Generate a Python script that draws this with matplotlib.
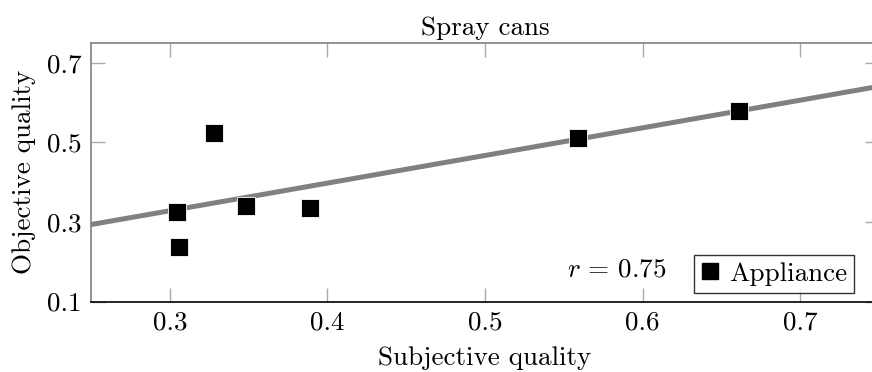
import matplotlib
matplotlib.use("Agg")
import matplotlib.pyplot as plt
import numpy as np

# Data
subjective = [0.3048, 0.3057, 0.3283, 0.3482, 0.389, 0.5589, 0.661]
objective = [0.3256, 0.2377, 0.5241, 0.340, 0.3357, 0.5116, 0.5794]
fit_slope = 0.695
fit_intercept = 0.1197
r_value = 0.75
series_name = "Appliance"
title = "Spray cans"
xticks = [0.3, 0.4, 0.5, 0.6, 0.7]
yticks = [0.1, 0.3, 0.5, 0.7]
xlim = (0.25, 0.75)
ylim = (0.1, 0.75)

plt.rcParams['font.family'] = ['cmr10', 'DejaVu Serif']
plt.rcParams['mathtext.fontset'] = 'cm'
plt.rcParams['axes.formatter.use_mathtext'] = True

FS = 19.5
W, H = 872, 372
fig = plt.figure(figsize=(W / 100, H / 100), dpi=100)
ax = fig.add_axes([91 / W, (H - 301.5) / H, (879 - 91) / W, (301.5 - 43) / H])

xs = np.array(xlim)
ax.plot(xs, fit_intercept + fit_slope * xs, color='#808080', lw=3.6, zorder=2,
        solid_capstyle='butt')
ax.plot(subjective, objective, linestyle='none', marker='s', markersize=13.5,
        markerfacecolor='black', markeredgecolor='white', markeredgewidth=0.6,
        zorder=3)

ax.set_xlim(*xlim)
ax.set_ylim(*ylim)
ax.set_xticks(xticks)
ax.set_yticks(yticks)
ax.set_xticklabels([f"{v:.1f}" for v in xticks], fontsize=FS)
ax.set_yticklabels([f"{v:.1f}" for v in yticks], fontsize=FS)
ax.tick_params(direction='in', length=10, width=1, color='#aaaaaa',
               top=True, right=True, pad=7)
for side in ['left', 'top', 'right']:
    ax.spines[side].set_color('#808080')
    ax.spines[side].set_linewidth(1.2)
ax.spines['bottom'].set_color('black')
ax.spines['bottom'].set_linewidth(1.2)

ax.set_title(title, fontsize=FS, pad=6)
ax.set_xlabel("Subjective quality", fontsize=FS, labelpad=8)
ax.set_ylabel("Objective quality", fontsize=FS, labelpad=8)

fig.text(667 / W, (H - 270) / H, rf"$r \,=\, {r_value}$", fontsize=FS,
         ha='right', va='center')

from matplotlib.lines import Line2D
handle = Line2D([], [], linestyle='none', marker='s', markersize=11,
                markerfacecolor='black', markeredgecolor='black')
leg = fig.legend([handle], [series_name], loc='lower right',
                 bbox_to_anchor=(854.3 / W, 79.3 / H),
                 bbox_transform=fig.transFigure, borderaxespad=0,
                 fontsize=FS, frameon=True, fancybox=False,
                 handlelength=0.7, handletextpad=0.35, borderpad=0.25,
                 edgecolor='black')
leg.get_frame().set_linewidth(1.0)

fig.savefig("out.png", dpi=100)
